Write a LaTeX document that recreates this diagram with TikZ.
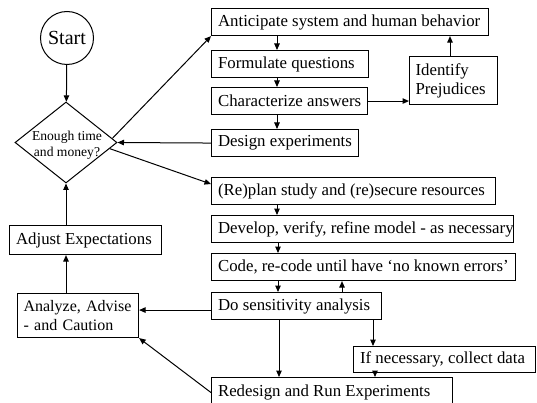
\documentclass[tikz,border=0pt]{standalone}
\usepackage{fontspec}
\setmainfont{Liberation Serif}
\usetikzlibrary{shapes.geometric,arrows.meta,calc}
\newcommand{\boxtxt}[2]{\makebox[#1][l]{\hspace{6.5pt}#2}}
\begin{document}
\begin{tikzpicture}[x=1pt,y=-1pt,
  box/.style={draw, line width=1.1pt, inner sep=0pt, anchor=north west, font=\fontsize{16.8}{19}\selectfont},
  arr/.style={-{Triangle[length=6.5pt,width=5.5pt]}, line width=1pt}]
\clip (0,0) rectangle (537,403);
\useasboundingbox (0,0) rectangle (537,403);

% start and decision
\node[draw, circle, line width=1pt, minimum size=53pt, inner sep=0pt, font=\fontsize{20}{24}\selectfont] (start) at (67,38) {Start};
\node[draw, diamond, line width=1pt, minimum width=102pt, minimum height=81pt, inner sep=0pt] (dia) at (66,142.5) {};
\node[font=\fontsize{13.6}{16}\selectfont, align=center, inner sep=0pt] (diat) at (67,145) {Enough time\\and money?};

% upper right column
\node[box, minimum height=27pt] (ant) at (211,8) {\boxtxt{277pt}{Anticipate system and human behavior}};
\node[box, minimum height=27pt] (fml) at (211,50) {\boxtxt{157pt}{Formulate questions}};
\node[box, minimum height=27pt] (chr) at (211,87) {\boxtxt{156pt}{Characterize answers}};
\node[box, minimum height=27pt] (des) at (211,129) {\boxtxt{147pt}{Design experiments}};
\node[box, minimum height=48pt, text width=76pt, inner xsep=6pt, align=left] (idf) at (409,56) {Identify\\Prejudices};

% lower right column
\node[box, minimum height=27pt] (rep) at (211,177) {\boxtxt{284pt}{(Re)plan study and (re)secure resources}};
\node[box, minimum height=27pt] (dev) at (211,215) {\boxtxt{302pt}{Develop, verify, refine model - as necessary}};
\node[box, minimum height=27pt] (cod) at (211,253) {\boxtxt{304pt}{Code, re-code until have ‘no known errors’}};
\node[box, minimum height=27pt] (dos) at (211,292) {\boxtxt{170pt}{Do sensitivity analysis}};
\node[box, minimum height=26pt] (ifn) at (353,346) {\boxtxt{182pt}{If necessary, collect data}};
\node[box, minimum height=30pt] (red) at (211,377) {\boxtxt{241pt}{Redesign and Run Experiments}};

% left column
\node[box, minimum height=29pt] (adj) at (9,225) {\boxtxt{152pt}{Adjust Expectations}};
\node[box, minimum height=44pt, text width=109pt, inner xsep=6pt, align=left, font=\fontsize{16}{19}\selectfont] (ana) at (17,293) {Analyze, Advise\\- and Caution};

% helper columns
\coordinate (cA) at (277,0);
\coordinate (cB) at (278,0);
\coordinate (cU) at (342,0);
\coordinate (cN) at (373,0);
\coordinate (cR) at (279,0);
\coordinate (cI) at (375,0);
\coordinate (cP) at (450,0);
\coordinate (dw) at ($(dos.west)+(0,4)$);

% connectors
\draw[arr] (start) -- (dia);
\draw[arr] ($(dia.east)!0.1!(dia.north)$) -- (ant.south west);
\draw[arr] (des.west) -- (dia.east);
\draw[arr] ($(dia.east)!0.15!(dia.south)$) -- ($(rep.north west)!0.25!(rep.south west)$);
\draw[arr] (ant.south -| cA) -- (fml.north -| cA);
\draw[arr] (fml.south -| cA) -- (chr.north -| cA);
\draw[arr] (chr.south -| cA) -- (des.north -| cA);
\draw[arr] (chr.east) -- (chr.east -| idf.west);
\draw[arr] (idf.north -| cP) -- (ant.south -| cP);
\draw[arr] (rep.south -| cA) -- (dev.north -| cA);
\draw[arr] (dev.south -| cB) -- (cod.north -| cB);
\draw[arr] (cod.south -| cB) -- (dos.north -| cB);
\draw[arr] (dos.north -| cU) -- (cod.south -| cU);
\draw[arr] (dos.south -| cN) -- (ifn.north -| cN);
\draw[arr] (dos.south -| cR) -- (red.north -| cR);
\draw[arr] (ifn.south -| cI) -- (red.north -| cI);
\draw[arr] (dw) -- (dw -| ana.east);
\draw[arr] (red.west) -- (ana.south east);
\draw[arr] (adj.north -| dia.south) -- (dia.south);
\draw[arr] (ana.north -| dia.south) -- (adj.south -| dia.south);
\end{tikzpicture}
\end{document}
